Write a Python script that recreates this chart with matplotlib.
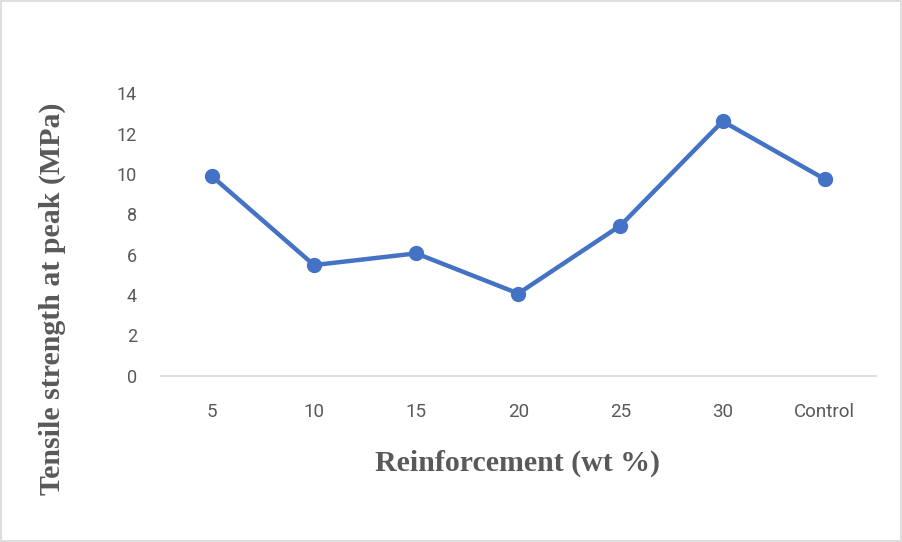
import matplotlib.pyplot as plt
from matplotlib.patches import Rectangle

# datos
categorias = ['5', '10', '15', '20', '25', '30', 'Control']
resistencia = [9.89, 5.48, 6.06, 4.07, 7.44, 12.61, 9.74]
ticks_y = [0, 2, 4, 6, 8, 10, 12, 14]

gris = '#595959'
azul = '#4472C4'

fig = plt.figure(figsize=(9.03, 5.42), dpi=100)
ax = fig.add_axes([0.178, 0.307, 0.792, 0.521])

x = list(range(len(categorias)))
ax.plot(x, resistencia, color=azul, linewidth=3.2, marker='o', markersize=10)

ax.set_xlim(-0.5, len(categorias) - 0.5)
ax.set_ylim(0, 14)
ax.set_yticks(ticks_y)
ax.set_xticks(x)
ax.set_xticklabels(categorias)

for s in ['top', 'right', 'left']:
    ax.spines[s].set_visible(False)
ax.spines['bottom'].set_color('#D9D9D9')
ax.spines['bottom'].set_linewidth(1.2)
ax.tick_params(axis='both', length=0, colors=gris, labelsize=13)
ax.tick_params(axis='x', labelsize=13.5)
ax.tick_params(axis='y', pad=17)
ax.tick_params(axis='x', pad=20)
for t in ax.get_xticklabels() + ax.get_yticklabels():
    t.set_fontfamily('Roboto')

fig.text(0.573, 0.146, 'Reinforcement (wt %)', ha='center', va='center',
         fontsize=21.5, fontweight='bold', family='Liberation Serif', color=gris)
fig.text(0.058, 0.449, 'Tensile strength at peak (MPa)', ha='center', va='center',
         rotation=90, fontsize=21.5, fontweight='bold', family='Liberation Serif', color=gris)

# borde del grafico
fig.patches.append(Rectangle((0.001, 0.002), 0.997, 0.996, transform=fig.transFigure,
                             fill=False, edgecolor='#D9D9D9', linewidth=1.2))

fig.savefig('out.png', dpi=100)
